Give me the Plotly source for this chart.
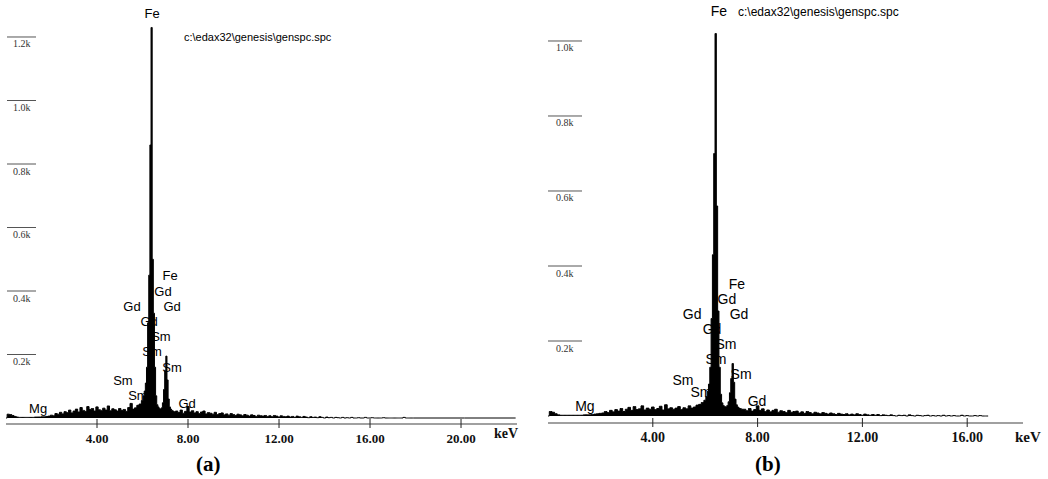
import numpy as np
import plotly.graph_objects as go

# ---------------- DATA ----------------
# Panel (a): counts per channel, three segments (start keV, step keV)
seg_a_low_start, seg_a_low_step = 0.0, 0.1
counts_a_low = [0, 12, 11, 8, 5, 3, 2, 2, 2, 2,
                2, 2, 2, 3, 3, 3, 4, 4, 5, 6,
                9, 7, 14, 12, 18, 13, 20, 17, 25, 16,
                22, 28, 19, 33, 24, 21, 36, 27, 30, 22,
                35, 26, 24, 31, 25, 38, 23, 29, 26, 22,
                30, 24, 27, 21, 33, 46, 28, 32, 40, 44]
seg_a_peak_start, seg_a_peak_step = 6.0, 0.05
counts_a_peak = [55, 70, 85, 110, 160, 300, 450, 860, 1230, 500,
                 330, 160, 70, 42, 35, 30, 28, 32, 48, 90,
                 150, 195, 120, 60, 35, 28, 24, 22, 20]
seg_a_high_start, seg_a_high_step = 7.5, 0.1
counts_a_high = [22, 17, 25, 15, 21, 36, 19, 23, 16, 20,
                 14, 19, 22, 13, 17, 15, 12, 18, 11, 14,
                 16, 10, 13, 9, 14, 11, 8, 12, 10, 7,
                 11, 9, 6, 10, 8, 5, 9, 7, 6, 8,
                 5, 7, 4, 8, 6, 3, 7, 5, 4, 6,
                 3, 5, 2, 6, 4, 2, 5, 3, 1, 4,
                 2, 3, 1, 4, 2, 0, 3, 1, 2, 0,
                 2, 1, 0, 2, 0, 1, 0, 2, 0, 0,
                 1, 0, 0, 2, 0, 0, 1, 0, 0, 0,
                 0, 1, 0, 0, 0, 0, 0, 0, 0, 0,
                 2, 0, 0, 0, 0]
tail_a_energy, tail_a_count = 22.4, 0

# Panel (b)
seg_b_low_start, seg_b_low_step = 0.0, 0.1
counts_b_low = [0, 12, 10, 6, 3, 2, 2, 2, 2, 2,
                2, 2, 2, 2, 3, 3, 3, 4, 5, 6,
                7, 8, 12, 9, 15, 11, 17, 13, 20, 12,
                18, 23, 15, 25, 17, 19, 27, 16, 21, 18,
                24, 17, 20, 26, 16, 30, 19, 22, 18, 21,
                25, 17, 22, 19, 27, 21, 24, 29, 31, 36]
seg_b_peak_start, seg_b_peak_step = 6.0, 0.05
counts_b_peak = [42, 52, 66, 85, 130, 260, 430, 700, 1020, 560,
                 280, 130, 58, 35, 28, 25, 24, 28, 38, 62,
                 100, 140, 90, 45, 30, 24, 21, 20, 18]
seg_b_high_start, seg_b_high_step = 7.5, 0.1
counts_b_high = [18, 14, 20, 13, 17, 27, 15, 19, 12, 16,
                 11, 15, 18, 10, 14, 12, 9, 15, 10, 12,
                 13, 8, 11, 7, 12, 9, 6, 10, 8, 6,
                 9, 7, 5, 8, 6, 4, 7, 5, 4, 6,
                 3, 5, 3, 6, 4, 2, 5, 3, 2, 4,
                 2, 4, 1, 3, 2, 1, 3, 1, 0, 2,
                 1, 2, 0, 3, 1, 0, 2, 1, 0, 1,
                 2, 0, 1, 0, 1, 0, 2, 0, 1, 0,
                 1, 0, 0, 2, 0, 1, 0, 0, 1, 0,
                 1, 0, 0, 0]

# Element labels: (text, energy keV, height counts)
labels_a = [("Fe", 6.42, 1269), ("Fe", 7.21, 444), ("Gd", 6.90, 394),
            ("Gd", 5.54, 346), ("Gd", 7.30, 346), ("Gd", 6.29, 299),
            ("Sm", 6.81, 252), ("Sm", 6.42, 205), ("Sm", 7.30, 154),
            ("Sm", 5.14, 113), ("Sm", 5.80, 66), ("Gd", 7.96, 41),
            ("Mg", 1.41, 25)]
labels_b = [("Fe", 6.52, 1075), ("Fe", 7.21, 349), ("Gd", 6.83, 307),
            ("Gd", 5.50, 269), ("Gd", 7.29, 269), ("Gd", 6.26, 229),
            ("Sm", 6.79, 187), ("Sm", 6.41, 149), ("Sm", 7.37, 107),
            ("Sm", 5.15, 93), ("Sm", 5.84, 59), ("Gd", 7.98, 35),
            ("Mg", 1.41, 24)]

x_ticks_a = [4, 8, 12, 16, 20]
x_ticks_b = [4, 8, 12, 16]
y_levels_a = [200, 400, 600, 800, 1000, 1200]
y_levels_b = [200, 400, 600, 800, 1000]
file_label = "c:\\edax32\\genesis\\genspc.spc"


def build(segments, tail=None):
    xs, ys = [], []
    for start, step, vals in segments:
        for i, v in enumerate(vals):
            xs.append(round(start + step * i, 3))
            ys.append(v)
    if tail is not None:
        xs.append(tail[0]); ys.append(tail[1])
    return xs, ys


xa, ya = build([(seg_a_low_start, seg_a_low_step, counts_a_low),
                (seg_a_peak_start, seg_a_peak_step, counts_a_peak),
                (seg_a_high_start, seg_a_high_step, counts_a_high)],
               (tail_a_energy, tail_a_count))
xb, yb = build([(seg_b_low_start, seg_b_low_step, counts_b_low),
                (seg_b_peak_start, seg_b_peak_step, counts_b_peak),
                (seg_b_high_start, seg_b_high_step, counts_b_high)])

W, H = 1048, 479
fig = go.Figure()

lab_font_a = dict(family="Liberation Sans, Arial", size=13, color="black")
lab_font_b = dict(family="Liberation Sans, Arial", size=14, color="black")

# labels first so the spectrum fill covers them where they overlap
fig.add_trace(go.Scatter(x=[l[1] for l in labels_a], y=[l[2] for l in labels_a],
                         text=[l[0] for l in labels_a], mode="text",
                         textfont=lab_font_a, cliponaxis=False,
                         xaxis="x", yaxis="y", hoverinfo="skip"))
fig.add_trace(go.Scatter(x=xa, y=ya, mode="lines", fill="tozeroy",
                         line=dict(color="black", width=1, shape="hvh"),
                         fillcolor="black", xaxis="x", yaxis="y"))
fig.add_trace(go.Scatter(x=[l[1] for l in labels_b], y=[l[2] for l in labels_b],
                         text=[l[0] for l in labels_b], mode="text",
                         textfont=lab_font_b, cliponaxis=False,
                         xaxis="x2", yaxis="y2", hoverinfo="skip"))
fig.add_trace(go.Scatter(x=xb, y=yb, mode="lines", fill="tozeroy",
                         line=dict(color="black", width=1, shape="hvh"),
                         fillcolor="black", xaxis="x2", yaxis="y2"))

tickfont_a = dict(family="Liberation Serif", size=13, color="#111", weight="bold")
tickfont_b = dict(family="Liberation Serif", size=14, color="#111", weight="bold")

fig.update_layout(
    width=W, height=H, margin=dict(l=0, r=0, t=0, b=0),
    paper_bgcolor="white", plot_bgcolor="white", showlegend=False,
    xaxis=dict(domain=[6 / W, 517 / W], range=[0, 22.46], showgrid=False,
               zeroline=False, showline=True, linecolor="#a0a0a0", linewidth=2,
               tickvals=x_ticks_a, ticktext=[f"{t:.2f}" for t in x_ticks_a],
               ticks="", tickfont=tickfont_a, ticklabelstandoff=2),
    yaxis=dict(domain=[(H - 423) / H, 1], range=[-15.7, 1316.5], visible=False),
    xaxis2=dict(domain=[548 / W, 1023 / W], range=[0, 18.13], showgrid=False,
                zeroline=False, showline=True, linecolor="#a0a0a0", linewidth=2,
                tickvals=x_ticks_b, ticktext=[f"{t:.2f}" for t in x_ticks_b],
                ticks="", tickfont=tickfont_b, ticklabelstandoff=1, anchor="y2"),
    yaxis2=dict(domain=[(H - 422) / H, 1], range=[-16, 1109.3], visible=False,
                anchor="x2"),
)

shapes, annots = [], []
# x tick marks crossing the axis line
for t in x_ticks_a:
    shapes.append(dict(type="line", xref="x", yref="y domain", x0=t, x1=t,
                       y0=4 / 423, y1=-5 / 423, line=dict(color="#222", width=1)))
for t in x_ticks_b:
    shapes.append(dict(type="line", xref="x2", yref="y2 domain", x0=t, x1=t,
                       y0=4 / 422, y1=-5 / 422, line=dict(color="#222", width=1)))

# y level markers (short lines with labels below)
ylab_font = dict(family="Liberation Serif", size=10, color="#333")
for lv in y_levels_a:
    shapes.append(dict(type="line", xref="paper", yref="y", x0=7 / W, x1=36 / W,
                       y0=lv, y1=lv, line=dict(color="#555", width=1)))
    annots.append(dict(xref="paper", yref="y", x=21.5 / W, y=lv, yshift=-7,
                       xanchor="center", yanchor="middle",
                       text=f"{lv / 1000:.1f}k", showarrow=False, font=ylab_font))
for lv in y_levels_b:
    shapes.append(dict(type="line", xref="paper", yref="y2", x0=548 / W, x1=582 / W,
                       y0=lv, y1=lv, line=dict(color="#555", width=1)))
    annots.append(dict(xref="paper", yref="y2", x=565 / W, y=lv, yshift=-7,
                       xanchor="center", yanchor="middle",
                       text=f"{lv / 1000:.1f}k", showarrow=False, font=ylab_font))

# file name
annots.append(dict(xref="paper", yref="paper", x=182 / W, y=1 - 37 / H, xanchor="left",
                   yanchor="middle", text=file_label, showarrow=False,
                   font=dict(family="Liberation Sans, Arial", size=11, color="black")))
annots.append(dict(xref="paper", yref="paper", x=736 / W, y=1 - 12 / H, xanchor="left",
                   yanchor="middle", text=file_label, showarrow=False,
                   font=dict(family="Liberation Sans, Arial", size=12, color="black")))
# keV units
annots.append(dict(xref="paper", yref="paper", x=506 / W, y=1 - 433 / H,
                   xanchor="center", yanchor="middle", text="keV", showarrow=False,
                   font=dict(family="Liberation Serif", size=14, color="#111", weight="bold")))
annots.append(dict(xref="paper", yref="paper", x=1028 / W, y=1 - 437 / H,
                   xanchor="center", yanchor="middle", text="keV", showarrow=False,
                   font=dict(family="Liberation Serif", size=15, color="#111", weight="bold")))
# panel captions
annots.append(dict(xref="paper", yref="paper", x=208 / W, y=1 - 464 / H,
                   xanchor="center", yanchor="middle", text="(a)", showarrow=False,
                   font=dict(family="Liberation Serif", size=21, color="black", weight="bold")))
annots.append(dict(xref="paper", yref="paper", x=768 / W, y=1 - 464 / H,
                   xanchor="center", yanchor="middle", text="(b)", showarrow=False,
                   font=dict(family="Liberation Serif", size=21, color="black", weight="bold")))

fig.update_layout(shapes=shapes, annotations=annots)
fig.write_html("out.html")
